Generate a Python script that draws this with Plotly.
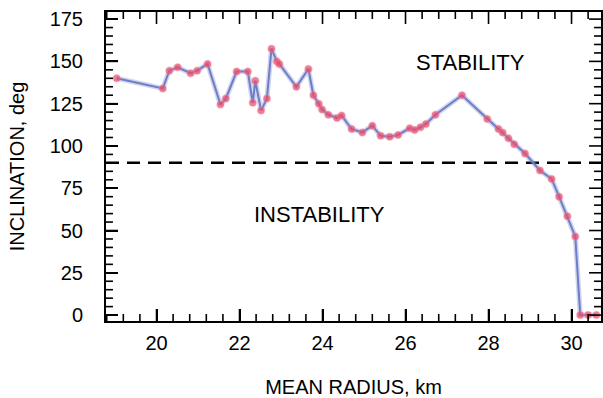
import plotly.graph_objects as go

radius_km = [19.04, 20.15, 20.31, 20.51, 20.82, 20.98, 21.23, 21.54, 21.67, 21.93,
             22.20, 22.32, 22.38, 22.52, 22.66, 22.77, 22.90, 22.96, 23.37, 23.66,
             23.78, 23.91, 23.99, 24.14, 24.35, 24.46, 24.70, 24.96, 25.20, 25.40,
             25.62, 25.82, 26.10, 26.22, 26.36, 26.49, 26.72, 27.36, 27.97, 28.24,
             28.34, 28.48, 28.62, 28.88, 29.24, 29.52, 29.70, 29.90, 30.09, 30.21,
             30.40, 30.60]
inclination_deg = [140, 134, 144.5, 146.5, 143, 144.5, 148.5, 124.5, 128, 144,
                   144, 125.5, 138.5, 121, 128, 157.5, 150, 148.5, 135, 145.5,
                   130, 125, 121.5, 118.5, 116.5, 118, 110, 108, 112, 106,
                   105.5, 106.5, 110.5, 109.5, 111, 113, 118.5, 130, 116, 110,
                   108, 104.5, 101, 95.5, 85.5, 80.5, 70, 58.5, 46.5, 0,
                   0, 0]
critical_inclination = 90
x_tick_start, x_tick_step, x_minor_step = 20, 2, 0.4
y_tick_start, y_tick_step, y_minor_step = 0, 25, 5
x_range = [18.783, 30.71]
y_range = [-3.5, 179.2]
regions = ["STABILITY", "INSTABILITY"]
region_x = [27.555, 23.92]
region_y = [149.1, 59.2]

FONT = "Liberation Sans, Arial, Helvetica, sans-serif"
MAJOR_LEN, MINOR_LEN = 12, 7
W, H = 603, 398
MARGIN = dict(l=106, r=0, t=12, b=76)
PLOT_W = W - MARGIN["l"] - MARGIN["r"]
PLOT_H = H - MARGIN["t"] - MARGIN["b"]
X_PER_PX = (x_range[1] - x_range[0]) / PLOT_W
Y_PER_PX = (y_range[1] - y_range[0]) / PLOT_H


def tick_positions(start, step, lo, hi):
    vals = []
    k = int((lo - start) // step) - 1
    while True:
        v = round(start + k * step, 6)
        if v > hi:
            break
        if v >= lo:
            vals.append(v)
        k += 1
    return vals


fig = go.Figure()

fig.add_trace(go.Scatter(
    x=x_range, y=[critical_inclination] * 2, mode="lines",
    line=dict(color="black", width=2.5, dash="13px,8px"),
    hoverinfo="skip", showlegend=False))

fig.add_trace(go.Scatter(
    x=radius_km, y=inclination_deg, mode="lines",
    line=dict(color="rgba(120,135,205,0.35)", width=5),
    hoverinfo="skip", showlegend=False))

fig.add_trace(go.Scatter(
    x=radius_km, y=inclination_deg, mode="lines+markers",
    line=dict(color="rgb(110,125,200)", width=2),
    marker=dict(color="rgba(235,75,105,0.72)", size=7,
                line=dict(color="rgba(245,130,150,0.4)", width=1.5)),
    showlegend=False))

# inside tick marks on all four sides, built from the tick steps
tx, ty = [], []
major_x = tick_positions(x_tick_start, x_tick_step, *x_range)
for v in tick_positions(x_tick_start, x_minor_step, *x_range):
    ln = (MAJOR_LEN if any(abs(v - m) < 1e-6 for m in major_x) else MINOR_LEN) * Y_PER_PX
    tx += [v, v, None, v, v, None]
    ty += [y_range[0], y_range[0] + ln, None, y_range[1], y_range[1] - ln, None]
major_y = tick_positions(y_tick_start, y_tick_step, *y_range)
for v in tick_positions(y_tick_start, y_minor_step, *y_range):
    ln = (MAJOR_LEN if any(abs(v - m) < 1e-6 for m in major_y) else MINOR_LEN) * X_PER_PX
    tx += [x_range[0], x_range[0] + ln, None, x_range[1], x_range[1] - ln, None]
    ty += [v, v, None, v, v, None]
fig.add_trace(go.Scatter(
    x=tx, y=ty, mode="lines", line=dict(color="black", width=1.6),
    hoverinfo="skip", showlegend=False, cliponaxis=False))

for txt, xx, yy in zip(regions, region_x, region_y):
    fig.add_annotation(x=xx, y=yy, text=txt, showarrow=False,
                       font=dict(size=22, color="black", family=FONT),
                       xanchor="center", yanchor="middle")

TF = dict(size=20, color="black", family=FONT)

fig.update_xaxes(
    range=x_range, tickmode="linear", tick0=x_tick_start, dtick=x_tick_step,
    showline=True, linecolor="black", linewidth=2, mirror=True,
    ticks="inside", tickcolor="black", tickwidth=1.6, ticklen=MAJOR_LEN,
    ticklabelstandoff=3,
    showgrid=False, zeroline=False, tickfont=TF,
    title=dict(text="MEAN RADIUS, km", font=TF, standoff=30),
)
fig.update_yaxes(
    range=y_range, tickmode="linear", tick0=y_tick_start, dtick=y_tick_step,
    showline=True, linecolor="black", linewidth=2, mirror=True,
    ticks="inside", tickcolor="black", tickwidth=1.6, ticklen=MAJOR_LEN,
    ticklabelstandoff=17,
    showgrid=False, zeroline=False, tickfont=TF,
    title=dict(text="INCLINATION, deg", font=TF, standoff=20),
)

fig.update_layout(
    width=W, height=H,
    margin=MARGIN,
    paper_bgcolor="white", plot_bgcolor="white",
    font=dict(family=FONT, color="black"),
)

fig.write_html("out.html")
